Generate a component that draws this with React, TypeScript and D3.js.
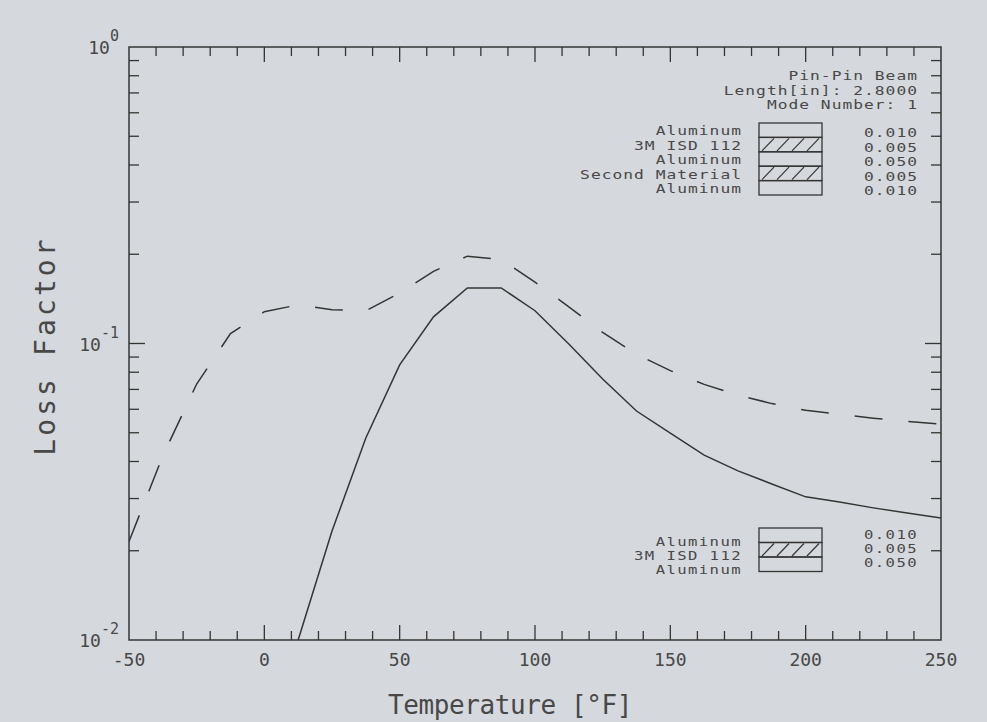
import React from "react";
import * as d3 from "d3";

const W = 987;
const H = 722;

// loss factor vs temperature, 3-layer beam (solid)
const solidTemp = [12.5, 25, 37.5, 50, 62.5, 75, 87.5, 100, 112.5, 125, 137.5, 150, 162.5, 175, 187.5, 200, 212.5, 225, 237.5, 250];
const solidLoss = [0.01, 0.0233, 0.048, 0.0847, 0.123, 0.154, 0.154, 0.129, 0.0996, 0.0759, 0.0592, 0.0499, 0.042, 0.0372, 0.0336, 0.0304, 0.0292, 0.0279, 0.0268, 0.0258];

// 5-layer beam with second material (dashed)
const dashTemp = [-50, -37.5, -25, -12.5, 0, 12.5, 25, 37.5, 50, 62.5, 75, 87.5, 100, 112.5, 125, 137.5, 150, 162.5, 175, 187.5, 200, 212.5, 225, 237.5, 250];
const dashLoss = [0.0215, 0.0418, 0.073, 0.108, 0.128, 0.135, 0.13, 0.129, 0.148, 0.175, 0.197, 0.192, 0.161, 0.133, 0.109, 0.092, 0.081, 0.0728, 0.067, 0.0627, 0.0595, 0.0577, 0.056, 0.0546, 0.0535];

const xTickLabels = ["-50", "0", "50", "100", "150", "200", "250"];
const yDecades = [1, 0.1, 0.01];
const yExponents = ["0", "-1", "-2"];

const infoLines = ["Pin-Pin Beam", "Length[in]:  2.8000", "Mode Number: 1"];

const topLayers = ["Aluminum", "3M ISD 112", "Aluminum", "Second Material", "Aluminum"];
const topThick = ["0.010", "0.005", "0.050", "0.005", "0.010"];
const topHatch = [false, true, false, true, false];

const botLayers = ["Aluminum", "3M ISD 112", "Aluminum"];
const botThick = ["0.010", "0.005", "0.050"];
const botHatch = [false, true, false];

const ink = "#353535";
const textInk = "#484848";
const font = "'DejaVu Sans Mono', monospace";

// plotter text: narrow font stretched sideways, right aligned at x
function WideText({ x, y, fs, children }) {
  const sx = 1.3;
  const ls = (10.8 / sx) - fs * 0.602;
  return (
    <text
      transform={`translate(${x},${y}) scale(${sx},1)`}
      textAnchor="end"
      fontSize={fs}
      letterSpacing={ls}
      fill={textInk}
      fontFamily={font}
    >
      {children}
    </text>
  );
}

function Stack({ x0, top, rowH, labels, thick, hatch, labelY, valY, fs }) {
  const bw = 63;
  return (
    <g>
      {labels.map((l, i) => (
        <WideText key={"l" + i} x={742} y={labelY[i]} fs={fs}>{l}</WideText>
      ))}
      {thick.map((t, i) => (
        <WideText key={"t" + i} x={918} y={valY[i]} fs={fs}>{t}</WideText>
      ))}
      {labels.map((l, i) => {
        const y0 = top + i * rowH;
        return (
          <g key={"r" + i}>
            <rect x={x0} y={y0} width={bw} height={rowH} fill="none" stroke={ink} strokeWidth={1.3} />
            {hatch[i] &&
              [0, 1, 2, 3].map((k) => (
                <line key={k} x1={x0 + 3 + k * 15} y1={y0 + rowH - 1} x2={x0 + 15 + k * 15} y2={y0 + 1} stroke={ink} strokeWidth={1.2} />
              ))}
          </g>
        );
      })}
    </g>
  );
}

export default function App() {
  const left = 129, right = 941, top = 47, bottom = 640;
  const x = d3.scaleLinear().domain([-50, 250]).range([left, right]);
  const y = d3.scaleLog().domain([0.01, 1]).range([bottom, top]);

  const solidPath = d3.line<number>()
    .x((d, i) => x(solidTemp[i]))
    .y((d) => y(d))(solidLoss);
  const dashPath = d3.line<number>()
    .x((d, i) => x(dashTemp[i]))
    .y((d) => y(d))(dashLoss);

  const xTicks = d3.range(-40, 250, 10);
  const yTicks = y.ticks().filter((v) => v > 0.0100001 && v < 0.99999);

  return (
    <svg width={W} height={H} style={{ position: "absolute", left: 0, top: 0 }}>
      <rect x={0} y={0} width={W} height={H} fill="#d5d8dc" />
      <defs>
        <clipPath id="plot">
          <rect x={left} y={top} width={right - left} height={bottom - top} />
        </clipPath>
      </defs>

      {/* frame */}
      <rect x={left} y={top} width={right - left} height={bottom - top} fill="none" stroke={ink} strokeWidth={1.5} />

      {/* x ticks, bottom and top */}
      {xTicks.map((t) => {
        const major = t % 50 === 0;
        const len = major ? 15 : 9;
        return (
          <g key={t}>
            <line x1={x(t)} x2={x(t)} y1={bottom} y2={bottom - len} stroke={ink} strokeWidth={1.3} />
            <line x1={x(t)} x2={x(t)} y1={top} y2={top + len} stroke={ink} strokeWidth={1.3} />
          </g>
        );
      })}

      {/* y ticks, left and right */}
      {yTicks.map((v) => {
        const major = Math.abs(Math.log10(v) - Math.round(Math.log10(v))) < 1e-6;
        const len = major ? 16 : 10;
        return (
          <g key={v}>
            <line x1={left} x2={left + len} y1={y(v)} y2={y(v)} stroke={ink} strokeWidth={1.3} />
            <line x1={right} x2={right - len} y1={y(v)} y2={y(v)} stroke={ink} strokeWidth={1.3} />
          </g>
        );
      })}

      {/* x tick labels */}
      {xTickLabels.map((s) => (
        <text key={s} x={x(+s)} y={666} textAnchor="middle" fontSize={18} fill={textInk} fontFamily={font}>
          {s}
        </text>
      ))}

      {/* y decade labels */}
      {yDecades.map((v, i) => (
        <text key={v} x={119} y={y(v) + 7} textAnchor="end" fontSize={18} fill={textInk} fontFamily={font}>
          10
          <tspan dy={-13} fontSize={15}>{yExponents[i]}</tspan>
        </text>
      ))}

      {/* axis titles */}
      <text x={510} y={714} textAnchor="middle" fontSize={26} letterSpacing={-0.4} fill={textInk} fontFamily={font}>
        Temperature [°F]
      </text>
      <text
        transform={`translate(55,${346}) rotate(-90)`}
        textAnchor="middle"
        fontSize={28}
        letterSpacing={3.1}
        fill={textInk}
        fontFamily={font}
      >
        Loss Factor
      </text>

      {/* curves */}
      <g clipPath="url(#plot)">
        <path d={dashPath || ""} fill="none" stroke={ink} strokeWidth={1.5} strokeDasharray="28 26" />
        <path d={solidPath || ""} fill="none" stroke={ink} strokeWidth={1.5} />
      </g>

      {/* info */}
      {infoLines.map((s, i) => (
        <WideText key={s} x={918} y={80 + i * 14.5} fs={12.5}>{s}</WideText>
      ))}

      <Stack
        x0={759}
        top={123}
        rowH={14.4}
        fs={12.5}
        labels={topLayers}
        thick={topThick}
        hatch={topHatch}
        labelY={[135, 149.5, 164, 178.5, 193]}
        valY={[137, 151.5, 166, 180.5, 195]}
      />
      <Stack
        x0={759}
        top={528}
        rowH={14.5}
        fs={12}
        labels={botLayers}
        thick={botThick}
        hatch={botHatch}
        labelY={[546, 560, 574]}
        valY={[539, 553, 567]}
      />
    </svg>
  );
}
